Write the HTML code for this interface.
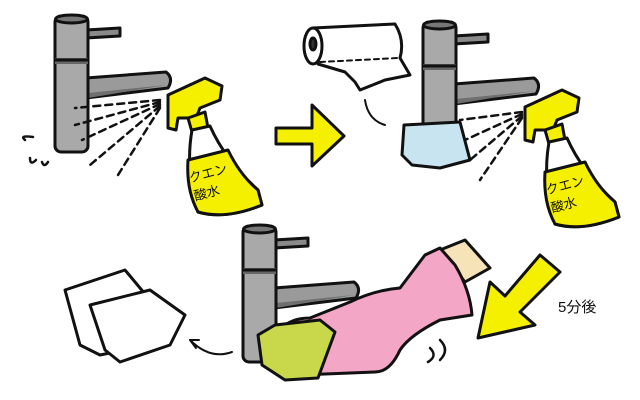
<!DOCTYPE html>
<html><head><meta charset="utf-8"><style>
html,body{margin:0;padding:0;background:#fff}
svg{display:block}
text{font-family:"Liberation Sans","Noto Sans CJK JP",sans-serif}
</style></head><body>
<svg width="640" height="400" viewBox="0 0 640 400" xmlns="http://www.w3.org/2000/svg" stroke="#111" stroke-width="3" stroke-linejoin="round" stroke-linecap="round">
<defs>
<g id="faucet">
  <path d="M86 30 L120 28 L120 36 L86 38Z" fill="#8a8a8a"/>
  <path d="M86 78 L166 72 Q174 78 168 88 L86 98 Z" fill="#9a9a9a"/>
  <path d="M88 93 L166 85 L88 98Z" fill="#6f6f6f" stroke="none"/>
  <rect x="55" y="16" width="33" height="136" rx="6" fill="#a9a9a9"/>
  <ellipse cx="71.5" cy="19" rx="16" ry="4" fill="#777"/>
  <rect x="55" y="58" width="33" height="6" fill="#666" stroke="none"/>
  <path d="M55 60 L88 60"/>
</g>
<g id="bottle">
  <path d="M168 95 L205 78 L222 86 L220 100 L200 108 L196 118 L178 118 L176 130 L168 128 Z" fill="#f5f000"/>
  <path d="M188 118 L205 112 L208 128 L192 132Z" fill="#f5f000"/>
  <path d="M192 130 L210 126 Q225 160 258 190 L262 205 Q225 220 198 212 Q185 170 192 130Z" fill="#fff"/>
  <path d="M188 160 L228 150 Q240 175 258 190 L262 205 Q225 220 198 212 Q186 190 188 160Z" fill="#f5f000"/>
  <text x="190" y="180" font-size="13" fill="#111" stroke="none" transform="rotate(-15 200 180)">クエン</text>
  <text x="195" y="198" font-size="13" fill="#111" stroke="none" transform="rotate(-15 205 198)">酸水</text>
</g>
</defs>

<!-- panel 1 -->
<use href="#faucet"/>
<use href="#bottle"/>
<g stroke-dasharray="7 5" stroke-width="2.5" fill="none">
<path d="M160 100 L75 108"/><path d="M160 102 L75 125"/><path d="M160 104 L82 140"/>
<path d="M160 106 L90 165"/><path d="M160 108 L118 175"/>
</g>
<path d="M25 140 q-6 -5 8 -3 M30 158 q0 8 6 2 M42 162 q2 6 6 0" fill="none" stroke-width="2.5"/>

<!-- arrow right -->
<path d="M276 128 L312 128 L312 105 L344 136 L312 166 L312 144 L276 144Z" fill="#f5f000"/>

<!-- paper roll -->
<path d="M313 28 L395 24 Q405 40 400 58 L410 75 L385 80 L360 90 L355 82 L345 72 L318 64Z" fill="#fff"/>
<path d="M320 62 L398 58" fill="none" stroke-width="2" stroke-dasharray="5 4"/>
<ellipse cx="313" cy="46" rx="9" ry="18" fill="#fff"/>
<ellipse cx="313" cy="44" rx="3" ry="6" fill="#333"/>
<path d="M365 100 q3 20 20 25" fill="none" stroke-width="2"/>

<!-- panel 2 faucet+bottle -->
<use href="#faucet" transform="translate(368,6)"/>
<use href="#bottle" transform="translate(357,12)"/>
<path d="M404 125 L460 122 L470 160 L440 168 L412 165 L402 155Z" fill="#c8e4f0"/>
<g stroke-dasharray="7 5" stroke-width="2.5" fill="none">
<path d="M522 112 L460 120"/><path d="M522 114 L465 140"/><path d="M522 116 L470 160"/><path d="M522 118 L480 180"/>
</g>

<!-- panel 3 -->
<use href="#faucet" transform="translate(188,210)"/>
<!-- glove -->
<path d="M440 250 L465 240 L490 268 L465 282Z" fill="#f7e3b8"/>
<path d="M280 330 Q290 318 310 318 L350 302 Q375 290 400 288 L425 255 L440 248 L455 265 Q470 290 472 315 L440 320 Q410 335 400 350 Q390 372 375 372 L300 375 Q275 360 280 330Z" fill="#f4a6c6"/>
<path d="M258 335 L275 325 L320 320 L335 332 L318 378 L285 380 L262 365Z" fill="#c9d84a"/>
<path d="M430 348 q8 8 -2 14 M440 340 q10 10 0 20" fill="none" stroke-width="2.5"/>

<!-- arrow down-left -->
<path d="M540 255 L560 272 L520 312 L535 325 L478 338 L490 282 L505 296Z" fill="#f5f000"/>
<text x="558" y="312" font-size="15" fill="#111" stroke="none">5分後</text>

<!-- paper sheets -->
<path d="M65 290 L125 270 L160 312 L150 345 L100 355 L80 345Z" fill="#fff"/>
<path d="M90 305 L150 290 L185 315 L170 345 L120 362 L105 350Z" fill="#fff"/>
<path d="M232 352 Q210 360 190 340" fill="none" stroke-width="2"/>
<path d="M190 340 L196 348 M190 340 L199 340" fill="none" stroke-width="2"/>
</svg>
</body></html>
